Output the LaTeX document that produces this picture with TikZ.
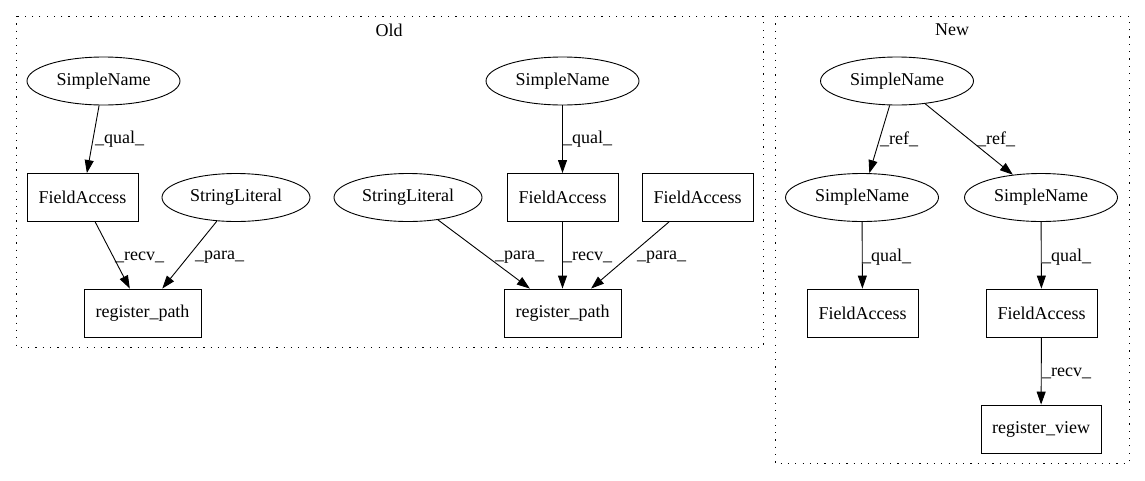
\documentclass[tikz,border=0pt]{standalone}
\usepackage{fontspec}
\setmainfont{Liberation Serif}
\usetikzlibrary{shapes.geometric,arrows.meta}
\begin{document}
\begin{tikzpicture}[x=1pt,y=-1pt,
  every node/.style={font=\fontsize{18}{21}\selectfont},
  ell/.style={draw,ellipse,line width=0.9pt,minimum width=153pt,minimum height=48pt,inner sep=0pt},
  box/.style={draw,rectangle,line width=0.9pt,minimum height=48pt,inner sep=0pt},
  edge/.style={line width=0.9pt,-{Triangle[length=13pt,width=9pt]}},
  lbl/.style={anchor=west,inner sep=0pt},
  cluster/.style={line width=1pt,dash pattern=on 1.2pt off 6.1pt}]
\useasboundingbox (0,0) rectangle (1145,480);
% clusters
\draw[cluster] (16,16) rectangle (763,347);
\node (oldlbl) at (389,30) {Old};
\draw[cluster] (775,16) rectangle (1129,463);
\node (newlbl) at (952,30) {New};
% Old, left group
\node[ell] (sn1) at (103.5,81) {SimpleName};
\node[box,minimum width=111pt] (fa1) at (82.5,197.5) {FieldAccess};
\node[ell,minimum width=148pt] (sl1) at (236,197.5) {StringLiteral};
\node[box,minimum width=117pt] (rp1) at (142.5,313) {register\_path};
% Old, right group
\node[ell] (sn2) at (562.5,81) {SimpleName};
\node[ell,minimum width=148pt] (sl2) at (408,197.5) {StringLiteral};
\node[box,minimum width=111pt] (fa2) at (562.5,197.5) {FieldAccess};
\node[box,minimum width=111pt] (fa3) at (697.5,197.5) {FieldAccess};
\node[box,minimum width=117pt] (rp2) at (562.5,313) {register\_path};
% New
\node[ell] (sn3) at (897,81) {SimpleName};
\node[ell] (sn4) at (862,197.5) {SimpleName};
\node[ell] (sn5) at (1041,197.5) {SimpleName};
\node[box,minimum width=111pt] (fa4) at (862.5,313) {FieldAccess};
\node[box,minimum width=111pt] (fa5) at (1041.5,313) {FieldAccess};
\node[box,minimum width=120pt] (rv) at (1041,429) {register\_view};
% edges
\draw[edge] (sn1) -- (fa1);
\draw[edge] (fa1) -- (rp1);
\draw[edge] (sl1) -- (rp1);
\draw[edge] (sn2) -- (fa2);
\draw[edge] (sl2) -- (rp2);
\draw[edge] (fa2) -- (rp2);
\draw[edge] (fa3) -- (rp2);
\draw[edge] (sn3) -- (sn4);
\draw[edge] (sn3) -- (sn5);
\draw[edge] (sn4) -- (fa4);
\draw[edge] (sn5) -- (fa5);
\draw[edge] (fa5) -- (rv);
% edge labels
\node[lbl] (l1) at (95,139) {\_qual\_};
\node[lbl] (l2) at (115,257) {\_recv\_};
\node[lbl] (l3) at (195,257) {\_para\_};
\node[lbl] (l4) at (563,139) {\_qual\_};
\node[lbl] (l5) at (495,257) {\_para\_};
\node[lbl] (l6) at (563,257) {\_recv\_};
\node[lbl] (l7) at (637,257) {\_para\_};
\node[lbl] (l8) at (880,139) {\_ref\_};
\node[lbl] (l9) at (977,139) {\_ref\_};
\node[lbl] (l10) at (862,257) {\_qual\_};
\node[lbl] (l11) at (1042,257) {\_qual\_};
\node[lbl] (l12) at (1042,373) {\_recv\_};
\end{tikzpicture}
\end{document}
